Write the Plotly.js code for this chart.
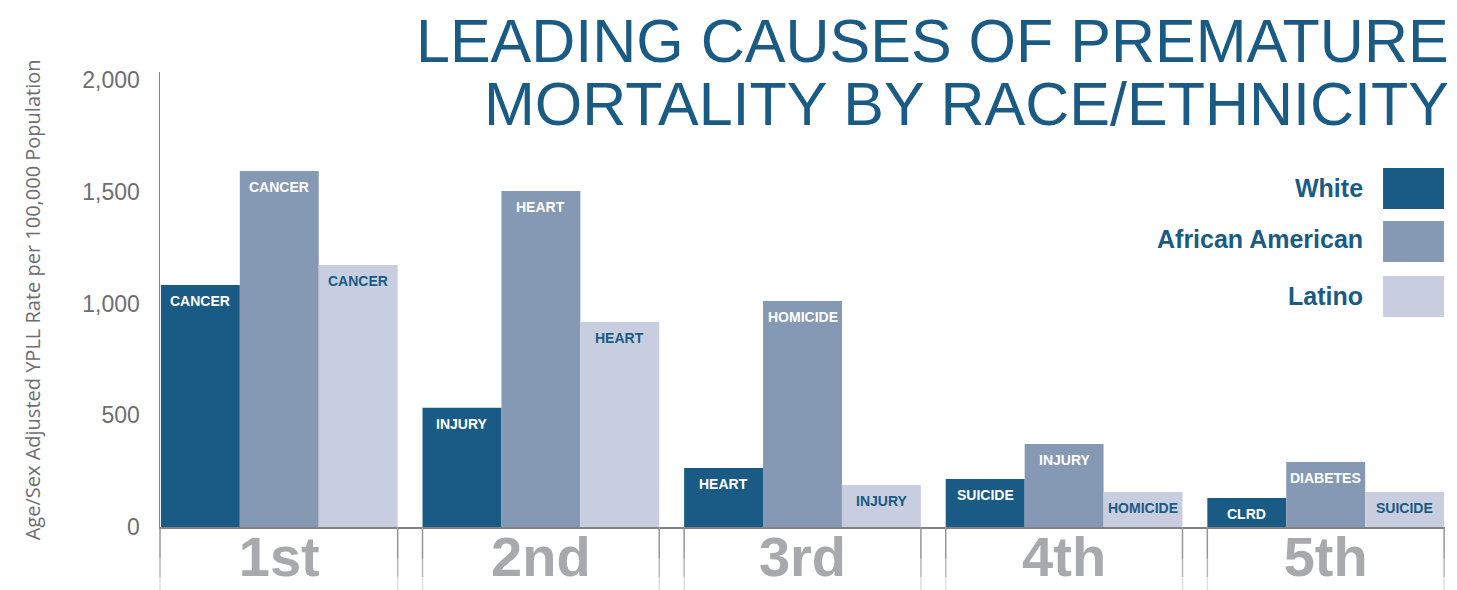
<!DOCTYPE html>
<html>
<head>
<meta charset="utf-8">
<script src="https://cdn.plot.ly/plotly-3.0.1.min.js"></script>
<style>html,body{margin:0;padding:0;background:#fff;}</style>
</head>
<body>
<div id="chart" style="width:1457px;height:590px;"></div>
<script>
// ---- data ----
const ranks = ['1st', '2nd', '3rd', '4th', '5th'];
const seriesNames = ['White', 'African American', 'Latino'];
const whiteValues = [1083, 534, 264, 215, 130];
const africanAmericanValues = [1593, 1503, 1011, 371, 291];
const latinoValues = [1172, 917, 188, 157, 157];
const whiteCauses = ['CANCER', 'INJURY', 'HEART', 'SUICIDE', 'CLRD'];
const africanAmericanCauses = ['CANCER', 'HEART', 'HOMICIDE', 'INJURY', 'DIABETES'];
const latinoCauses = ['CANCER', 'HEART', 'INJURY', 'HOMICIDE', 'SUICIDE'];
const yTickValues = [0, 500, 1000, 1500, 2000];
const yTickLabels = ['0', '500', '1,000', '1,500', '2,000'];
const titleLines = ['LEADING CAUSES OF PREMATURE', 'MORTALITY BY RACE/ETHNICITY'];
const yTitle = 'Age/Sex Adjusted YPLL Rate per 100,000 Population';

// ---- styles ----
const barColors = ['#1a5b85', '#8599b4', '#c8cedf'];
const labelColors = ['#ffffff', '#ffffff', '#1a5b85'];
const titleColor = '#1a5b85';
const gray = '#6d6e71';
const bargap = 0.095;

const allValues = [whiteValues, africanAmericanValues, latinoValues];
const allCauses = [whiteCauses, africanAmericanCauses, latinoCauses];

const traces = seriesNames.map((name, s) => ({
  type: 'bar',
  name: name,
  x: ranks,
  y: allValues[s],
  marker: {color: barColors[s], line: {width: 0}},
  hoverinfo: 'none',
  showlegend: false
}));

const barW = (1 - bargap) / seriesNames.length;
const annotations = [];

// bar labels
allValues.forEach((vals, s) => {
  vals.forEach((v, i) => {
    annotations.push({
      xref: 'x', yref: 'y',
      x: i + (s - 1) * barW, y: v,
      yshift: -16, yanchor: 'middle', xanchor: 'center',
      text: '<b>' + allCauses[s][i] + '</b>',
      showarrow: false,
      font: {family: 'Liberation Sans, Arial, sans-serif', size: 14, color: labelColors[s]}
    });
  });
});

// title
annotations.push({
  xref: 'paper', yref: 'paper', x: 1.0045, y: 1.069, xanchor: 'right', yanchor: 'middle',
  text: titleLines[0], showarrow: false,
  font: {family: 'Liberation Sans, Arial, sans-serif', size: 61, color: titleColor}
});
annotations.push({
  xref: 'paper', yref: 'paper', x: 1.0045, y: 0.929, xanchor: 'right', yanchor: 'middle',
  text: titleLines[1], showarrow: false,
  font: {family: 'Liberation Sans, Arial, sans-serif', size: 61, color: titleColor}
});

// y axis title
annotations.push({
  xref: 'paper', yref: 'paper', x: -0.099, y: 0.5, xanchor: 'center', yanchor: 'middle',
  text: yTitle, textangle: -90, showarrow: false,
  font: {family: 'Open Sans, sans-serif', size: 20, color: gray}
});

// legend (text left of swatch)
const legendY = [0.745, 0.633, 0.5077];
const swatchY = [[0.6989, 0.789], [0.5824, 0.6725], [0.4615, 0.5516]];
const shapes = [];
seriesNames.forEach((name, s) => {
  annotations.push({
    xref: 'paper', yref: 'paper', x: 0.938, y: legendY[s], xanchor: 'right', yanchor: 'middle',
    text: '<b>' + name + '</b>', showarrow: false,
    font: {family: 'Liberation Sans, Arial, sans-serif', size: 25, color: titleColor}
  });
  shapes.push({
    type: 'rect', xref: 'paper', yref: 'paper',
    x0: 0.9518, x1: 0.9992, y0: swatchY[s][0], y1: swatchY[s][1],
    fillcolor: barColors[s], line: {width: 0}
  });
});

// group boxes below the baseline (fading downward)
const half = (1 - bargap) / 2;
const fadeSteps = [[0, -0.07, 1], [-0.07, -0.11, 0.65], [-0.11, -0.14, 0.3]];
function divider(xref, x) {
  fadeSteps.forEach(st => {
    shapes.push({type: 'line', xref: xref, yref: 'paper', x0: x, x1: x, y0: st[0], y1: st[1],
      opacity: st[2], line: {color: '#939598', width: 1.5}});
  });
}
ranks.forEach((r, i) => {
  if (i > 0) divider('x', i - half);
  divider('x', i + half);
});
divider('paper', 0);

const layout = {
  width: 1457, height: 590,
  margin: {l: 160, r: 12, t: 72, b: 63, pad: 0},
  paper_bgcolor: '#ffffff', plot_bgcolor: '#ffffff',
  barmode: 'group', bargap: bargap, bargroupgap: 0,
  showlegend: false,
  xaxis: {
    type: 'category',
    range: [-0.456, 4.456],
    showgrid: false, zeroline: false, ticks: '',
    showline: true, linecolor: '#808285', linewidth: 2,
    tickfont: {family: 'Liberation Sans, Arial, sans-serif', size: 56, color: '#a7a9ac', weight: 'bold'},
    ticklabelstandoff: -20,
    fixedrange: true
  },
  yaxis: {
    range: [0, 2036],
    tickvals: yTickValues, ticktext: yTickLabels,
    showgrid: false, zeroline: false, ticks: '',
    showline: true, linecolor: '#808285', linewidth: 1.5,
    tickfont: {family: 'Liberation Sans, Arial, sans-serif', size: 23, color: gray},
    ticklabelstandoff: 14,
    fixedrange: true
  },
  annotations: annotations,
  shapes: shapes
};

Plotly.newPlot('chart', traces, layout, {displayModeBar: false, staticPlot: true});
</script>
</body>
</html>
